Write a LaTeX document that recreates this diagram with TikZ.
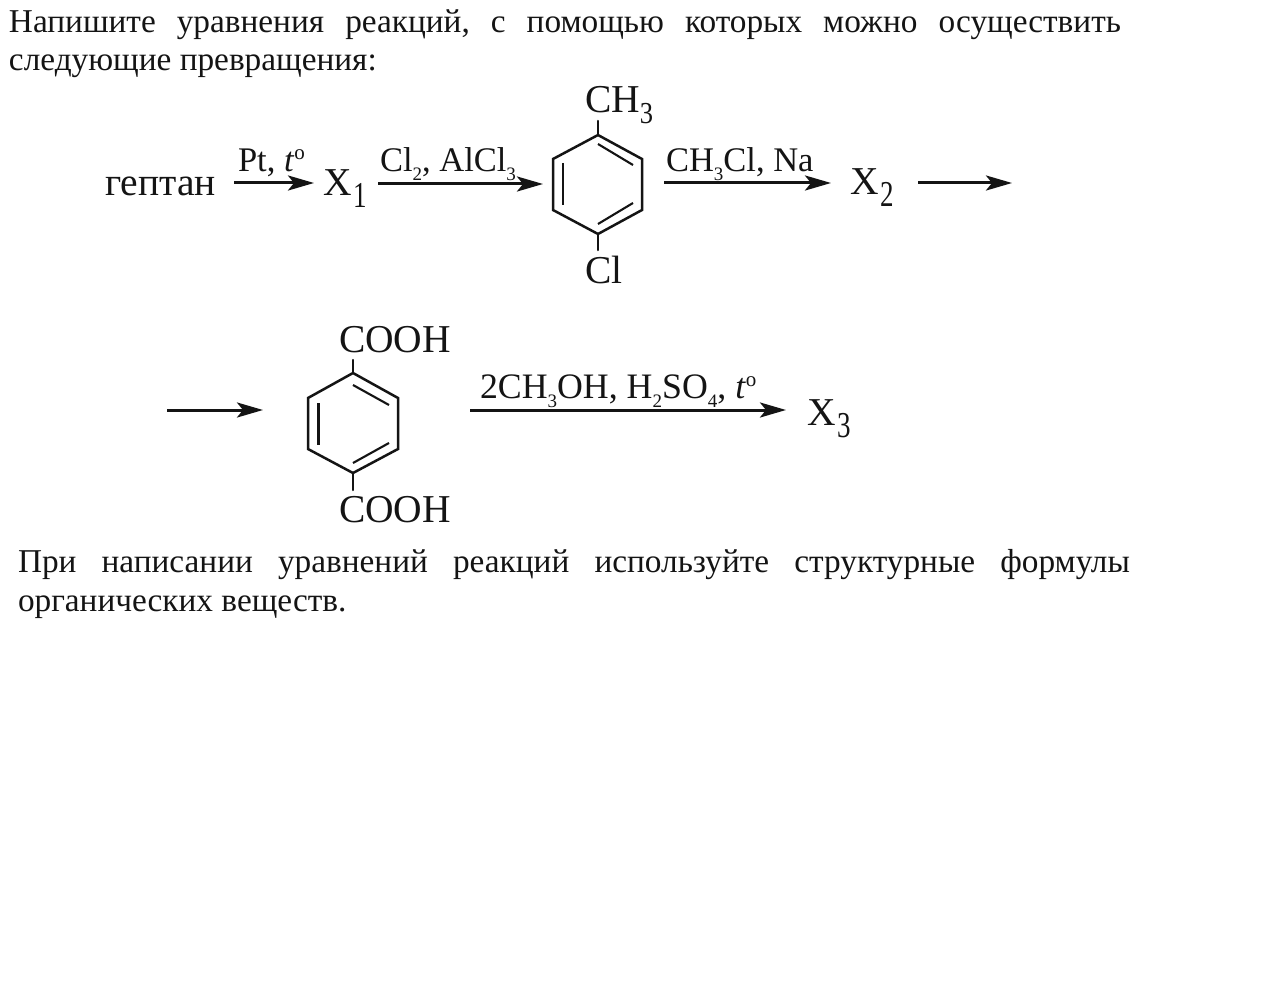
\documentclass[tikz,border=0pt]{standalone}
\usepackage{fontspec}
\setmainfont{Liberation Serif}
\usetikzlibrary{arrows.meta}
\newcommand{\bodysize}{\fontsize{33.3}{38}\selectfont}
\newcommand{\chemsize}{\fontsize{39.5}{44}\selectfont}
\newcommand{\labsize}{\fontsize{34.5}{40}\selectfont}
\newcommand{\labsizeb}{\fontsize{35.8}{40}\selectfont}
\newcommand{\chsub}[1]{\raisebox{-11pt}{\scalebox{1}[1.15]{\fontsize{26.5}{28}\selectfont #1}}}
\newcommand{\xsub}[1]{\kern1.5pt\raisebox{-12pt}{\scalebox{1}[1.35]{\fontsize{27}{28}\selectfont #1}}}
\newcommand{\lsub}[1]{\raisebox{-9pt}{\fontsize{19}{22}\selectfont #1}}
\newcommand{\lsup}[1]{\raisebox{12pt}{\fontsize{21}{22}\selectfont #1}}
\tikzset{
  x=1pt,y=-1pt,
  txt/.style={anchor=base west,inner sep=0pt,outer sep=0pt,text=black!92},
  bodytxt/.style={txt,font=\bodysize},
  chemtxt/.style={txt,font=\chemsize},
  labtxt/.style={txt,font=\labsize},
  labtxtb/.style={txt,font=\labsizeb},
  bond/.style={line width=2.5pt,line cap=round,line join=miter,draw=black!92},
  inbond/.style={line width=2.1pt,draw=black!92},
  rxn/.style={line width=3pt,draw=black!92,-{Stealth[length=26pt,width=15pt,inset=6pt]}},
}
\begin{document}
\begin{tikzpicture}
\useasboundingbox (0,0) rectangle (1287,995);
\fill[white] (0,0) rectangle (1287,995);
% body text
\node[bodytxt] (l1) at (9,33) {\makebox[1112pt][s]{Напишите\hfill уравнения\hfill реакций,\hfill с\hfill помощью\hfill которых\hfill можно\hfill осуществить}};
\node[bodytxt] (l2) at (9,71) {следующие превращения:};
\node[bodytxt] (l3) at (18,572) {\makebox[1112pt][s]{При\hfill написании\hfill уравнений\hfill реакций\hfill используйте\hfill структурные\hfill формулы}};
\node[bodytxt] (l4) at (18,611) {органических веществ.};
% row 1 species
\node[chemtxt] (hept) at (105,196) {гептан};
\node[chemtxt] (x1) at (323,196) {X\xsub{1}};
\node[chemtxt] (ch3) at (585,113) {CH\chsub{3}};
\node[chemtxt] (cl) at (585,283) {Cl};
\node[chemtxt] (x2) at (850,195) {X\xsub{2}};
% row 1 labels
\node[labtxt] (lab1) at (238,172) {Pt, \textit{t}\lsup{o}};
\node[labtxt] (lab2) at (380,172) {Cl\lsub{2}, AlCl\lsub{3}};
\node[labtxt] (lab3) at (666,172) {CH\lsub{3}Cl, Na};
% row 2 species
\node[chemtxt] (cooha) at (339,352) {COOH};
\node[chemtxt] (coohb) at (339,522) {COOH};
\node[chemtxt] (x3) at (807,425.5) {X\xsub{3}};
\node[labtxtb] (lab4) at (480,398) {2CH\lsub{3}OH, H\lsub{2}SO\lsub{4}, \textit{t}\lsup{o}};
% ring 1
\coordinate (r1t) at (598,135);
\coordinate (r1ur) at (642,159);
\coordinate (r1lr) at (642,210);
\coordinate (r1b) at (598,234);
\coordinate (r1ll) at (553,210);
\coordinate (r1ul) at (553,159);
\coordinate (r1top) at (598,121);
\coordinate (r1bot) at (598,250);
\draw[bond] (r1t) -- (r1ur) -- (r1lr) -- (r1b) -- (r1ll) -- (r1ul) -- cycle;
\draw[bond] (r1top) -- (r1t);
\draw[bond] (r1b) -- (r1bot);
\coordinate (r1a) at (563,163); \coordinate (r1c) at (563,205);
\coordinate (r1d) at (598,144); \coordinate (r1e) at (633,165);
\coordinate (r1f) at (598,224); \coordinate (r1g) at (633,203);
\draw[inbond] (r1a) -- (r1c);
\draw[inbond] (r1d) -- (r1e);
\draw[inbond] (r1f) -- (r1g);
% ring 2
\coordinate (r2t) at (353,373);
\coordinate (r2ur) at (398,398);
\coordinate (r2lr) at (398,449);
\coordinate (r2b) at (353,473);
\coordinate (r2ll) at (308,449);
\coordinate (r2ul) at (308,398);
\coordinate (r2top) at (353,360);
\coordinate (r2bot) at (353,490);
\draw[bond] (r2t) -- (r2ur) -- (r2lr) -- (r2b) -- (r2ll) -- (r2ul) -- cycle;
\draw[bond] (r2top) -- (r2t);
\draw[bond] (r2b) -- (r2bot);
\coordinate (r2a) at (318.5,403); \coordinate (r2c) at (318.5,445);
\coordinate (r2d) at (353,385); \coordinate (r2e) at (389,405);
\coordinate (r2f) at (353,463); \coordinate (r2g) at (389,443);
\draw[inbond] (r2a) -- (r2c);
\draw[inbond] (r2d) -- (r2e);
\draw[inbond] (r2f) -- (r2g);
% reaction arrows
\coordinate (a1s) at (234,183); \coordinate (a1e) at (314,183);
\coordinate (a2s) at (378,184); \coordinate (a2e) at (543,184);
\coordinate (a3s) at (664,183); \coordinate (a3e) at (831,183);
\coordinate (a4s) at (918,183); \coordinate (a4e) at (1012,183);
\coordinate (a5s) at (167,410); \coordinate (a5e) at (263,410);
\coordinate (a6s) at (470,410); \coordinate (a6e) at (786,410);
\draw[rxn] (a1s) -- (a1e);
\draw[rxn] (a2s) -- (a2e);
\draw[rxn] (a3s) -- (a3e);
\draw[rxn] (a4s) -- (a4e);
\draw[rxn] (a5s) -- (a5e);
\draw[rxn] (a6s) -- (a6e);
\end{tikzpicture}
\end{document}
